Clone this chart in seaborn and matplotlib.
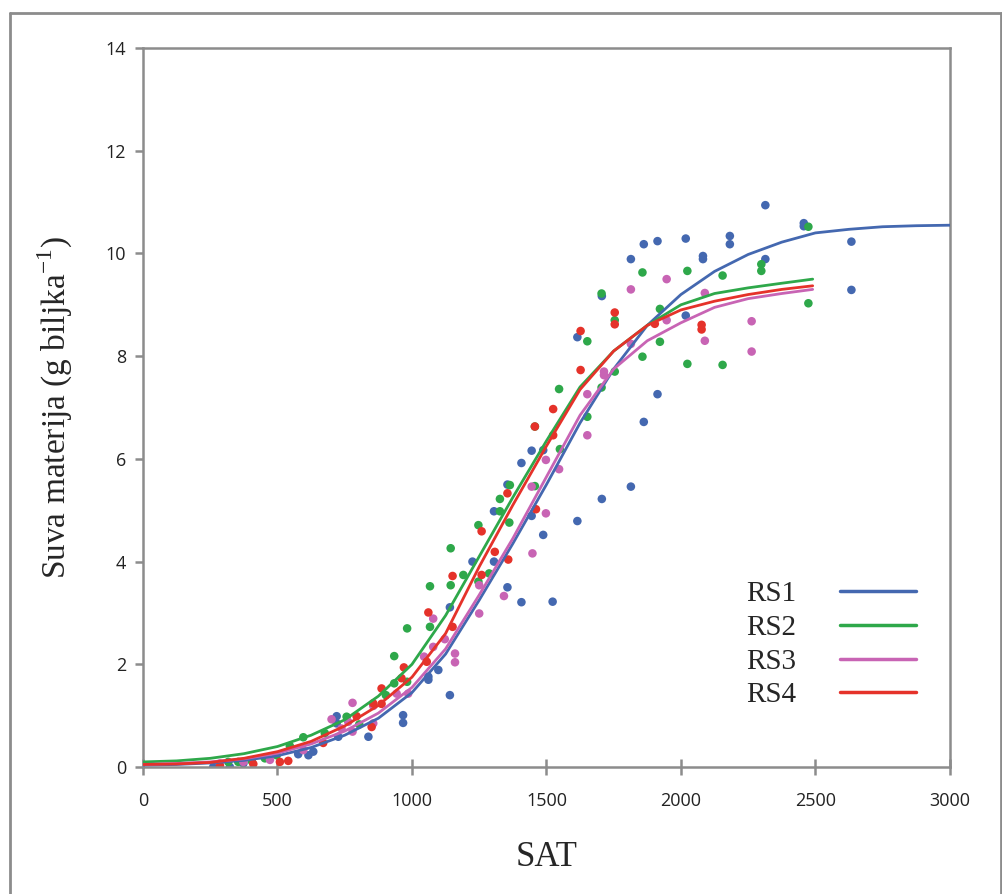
import matplotlib
matplotlib.use("Agg")
import matplotlib.pyplot as plt
from matplotlib.lines import Line2D
import seaborn as sns
import pandas as pd

rs1_points = [(261, 0.0), (323, 0.0), (373, 0.07), (577, 0.25), (615, 0.23), (633, 0.30),
              (720, 0.99), (720, 0.85), (726, 0.59), (838, 0.59), (967, 1.01), (967, 0.86),
              (1061, 1.76), (1061, 1.70), (1098, 1.89), (1141, 3.11), (1141, 1.40), (1225, 4.00),
              (1305, 4.98), (1305, 4.00), (1355, 5.50), (1355, 3.50), (1407, 5.92), (1407, 3.21),
              (1445, 6.16), (1445, 4.89), (1488, 6.17), (1488, 4.52), (1523, 3.22), (1615, 8.37),
              (1615, 4.79), (1706, 9.17), (1706, 5.22), (1814, 9.89), (1814, 5.46), (1862, 10.18),
              (1862, 6.72), (1913, 10.24), (1913, 7.26), (2018, 10.29), (2018, 8.79), (2082, 9.95),
              (2082, 9.89), (2182, 10.34), (2182, 10.18), (2314, 10.94), (2314, 9.89), (2457, 10.59),
              (2457, 10.53), (2634, 10.23), (2634, 9.29)]
rs2_points = [(317, 0.10), (354, 0.10), (404, 0.12), (453, 0.17), (497, 0.23), (546, 0.41),
              (596, 0.58), (676, 0.66), (757, 0.98), (804, 0.83), (903, 1.40), (934, 2.16),
              (934, 1.63), (982, 2.70), (982, 1.66), (1067, 3.52), (1067, 2.73), (1144, 4.26),
              (1144, 3.54), (1191, 3.74), (1247, 4.71), (1247, 3.61), (1287, 3.77), (1327, 5.22),
              (1327, 4.98), (1362, 4.76), (1364, 5.49), (1457, 6.63), (1457, 5.47), (1547, 7.36),
              (1550, 6.19), (1652, 8.29), (1652, 6.82), (1705, 9.22), (1705, 7.39), (1754, 8.70),
              (1754, 7.70), (1857, 9.63), (1857, 7.99), (1922, 8.92), (1922, 8.28), (2024, 9.66),
              (2024, 7.85), (2155, 9.57), (2155, 7.83), (2299, 9.79), (2299, 9.66), (2474, 10.52),
              (2474, 9.03)]
rs3_points = [(286, 0.07), (373, 0.10), (472, 0.14), (596, 0.33), (701, 0.93), (738, 0.75),
              (763, 0.88), (779, 1.25), (779, 0.69), (856, 1.19), (856, 0.85), (943, 1.43),
              (986, 1.43), (1045, 2.15), (1079, 2.89), (1079, 2.34), (1122, 2.49), (1160, 2.21),
              (1160, 2.04), (1250, 3.54), (1250, 2.99), (1342, 3.33), (1445, 5.46), (1448, 4.16),
              (1498, 5.98), (1498, 4.94), (1547, 5.80), (1652, 7.26), (1652, 6.46), (1714, 7.70),
              (1714, 7.63), (1814, 9.30), (1814, 8.24), (1947, 9.50), (1947, 8.70), (2089, 9.23),
              (2089, 8.30), (2263, 8.68), (2263, 8.09)]
rs4_points = [(286, 0.02), (410, 0.06), (509, 0.10), (540, 0.12), (670, 0.47), (794, 0.99),
              (850, 0.78), (856, 1.24), (887, 1.53), (887, 1.23), (961, 1.73), (970, 1.94),
              (1055, 2.05), (1061, 3.01), (1151, 3.72), (1151, 2.73), (1259, 4.59), (1259, 3.74),
              (1308, 4.19), (1355, 5.33), (1358, 4.04), (1457, 6.63), (1461, 5.02), (1525, 6.97),
              (1525, 6.46), (1627, 8.49), (1627, 7.73), (1754, 8.85), (1754, 8.62), (1903, 8.63),
              (2077, 8.61), (2077, 8.52)]

# Fitted curves
fit_x = [0, 125, 250, 375, 500, 625, 750, 875, 1000, 1125, 1250, 1375, 1500, 1625,
         1750, 1875, 2000, 2125, 2250, 2375, 2490]
fit_x_rs1 = fit_x[:-1] + [2500, 2625, 2750, 2875, 3000]
rs1_fit = [0.04, 0.05, 0.08, 0.13, 0.22, 0.38, 0.62, 0.95, 1.45, 2.2, 3.25, 4.35, 5.5, 6.7,
           7.75, 8.6, 9.2, 9.65, 9.98, 10.22, 10.4, 10.47, 10.52, 10.54, 10.55]
rs2_fit = [0.1, 0.12, 0.17, 0.26, 0.4, 0.62, 0.92, 1.38, 2.0, 2.95, 4.1, 5.25, 6.35, 7.4,
           8.1, 8.6, 9.0, 9.22, 9.33, 9.42, 9.5]
rs3_fit = [0.05, 0.07, 0.1, 0.16, 0.27, 0.45, 0.7, 1.05, 1.55, 2.3, 3.35, 4.45, 5.65, 6.85,
           7.75, 8.3, 8.65, 8.95, 9.12, 9.22, 9.3]
rs4_fit = [0.05, 0.06, 0.09, 0.17, 0.3, 0.5, 0.8, 1.2, 1.75, 2.6, 3.9, 5.1, 6.25, 7.35,
           8.1, 8.6, 8.9, 9.07, 9.2, 9.3, 9.37]

series = ["RS1", "RS2", "RS3", "RS4"]
colors = {"RS1": "#4468B0", "RS2": "#2EA84A", "RS3": "#C864B4", "RS4": "#E5322A"}

pts = pd.concat([pd.DataFrame(p, columns=["SAT", "DM"]).assign(serija=s)
                 for s, p in zip(series, [rs1_points, rs2_points, rs3_points, rs4_points])])
fits = pd.concat([pd.DataFrame({"SAT": fx, "DM": fy, "serija": s})
                  for s, fx, fy in zip(series, [fit_x_rs1, fit_x, fit_x, fit_x],
                                       [rs1_fit, rs2_fit, rs3_fit, rs4_fit])])

sns.set_style("white")
plt.rcParams["font.family"] = ["Open Sans", "DejaVu Sans"]
plt.rcParams["mathtext.fontset"] = "custom"
plt.rcParams["mathtext.rm"] = "Liberation Serif"

fig = plt.figure(figsize=(10.03, 8.94), dpi=100)
ax = fig.add_axes([0.1426, 0.142, 0.8044, 0.8043])

sns.scatterplot(data=pts, x="SAT", y="DM", hue="serija", palette=colors, s=38,
                linewidth=0, legend=False, ax=ax, zorder=2)
for s in series:
    d = fits[fits["serija"] == s]
    sns.lineplot(x=d["SAT"], y=d["DM"], color=colors[s], lw=2.0, label=s,
                 sort=False, estimator=None, ax=ax, zorder=3)

ax.set_xlim(0, 3000)
ax.set_ylim(0, 14)
ax.set_xticks(range(0, 3001, 500))
ax.set_yticks(range(0, 15, 2))
for sp in ax.spines.values():
    sp.set_color("#8C8C8C")
    sp.set_linewidth(1.8)
ax.tick_params(axis="y", direction="out", length=6, width=1.8, color="#8C8C8C",
               labelsize=13, pad=6, left=True, labelcolor="#222222")
ax.tick_params(axis="x", direction="inout", length=12, width=1.8, color="#8C8C8C",
               labelsize=13, pad=12, bottom=True, labelcolor="#222222")

serif = "Liberation Serif"
ax.set_xlabel("SAT", fontsize=25, family=serif, labelpad=22)
ax.set_ylabel("Suva materija (g biljka$^{-1}$)", fontsize=24, family=serif, labelpad=22)

leg = ax.legend(loc="lower right", bbox_to_anchor=(0.99, 0.045), frameon=False,
                markerfirst=False, handlelength=2.6, labelspacing=0.25,
                prop={"family": serif, "size": 21}, handletextpad=1.5)
for h in leg.get_lines():
    h.set_linewidth(2.5)

# outer frame of the figure
for xs, ys in [((0.010, 0.010), (0.0, 0.9855)), ((0.010, 0.9985), (0.9855, 0.9855)),
               ((0.9985, 0.9985), (0.0, 0.9855))]:
    fig.add_artist(Line2D(xs, ys, color="#8C8C8C", lw=2.0, transform=fig.transFigure))

fig.savefig("out.png", dpi=100)
